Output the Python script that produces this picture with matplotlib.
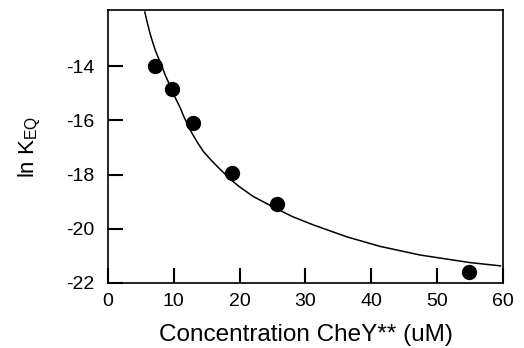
import numpy as np
import matplotlib
matplotlib.use('Agg')
import matplotlib.pyplot as plt

plt.rcParams['font.family'] = ['Liberation Sans', 'DejaVu Sans']
plt.rcParams['axes.unicode_minus'] = False
plt.rcParams['mathtext.fontset'] = 'custom'
plt.rcParams['mathtext.rm'] = 'Liberation Sans'
plt.rcParams['mathtext.it'] = 'Liberation Sans'
plt.rcParams['xtick.direction'] = 'in'
plt.rcParams['ytick.direction'] = 'in'

# measured points
conc = [7.1, 9.7, 12.9, 18.9, 25.6, 54.8]
lnkeq = [-14.0, -14.83, -16.11, -17.95, -19.08, -21.6]

# fitted curve
fit_x = [5.6, 6.0, 6.4, 6.8, 7.2, 7.7, 8.2, 8.7, 9.3, 9.8, 10.4, 11.0, 11.5, 12.1, 12.7,
         13.6, 14.5, 15.6, 16.8, 18.5, 19.8, 22.0, 25.1, 28.0, 31.2, 36.3, 41.3, 47.4, 55.0, 59.6]
fit_y = [-12.0, -12.42, -12.8, -13.12, -13.42, -13.72, -14.0, -14.33, -14.65, -14.95,
         -15.25, -15.55, -15.85, -16.15, -16.45, -16.82, -17.15, -17.45, -17.75, -18.15,
         -18.42, -18.8, -19.2, -19.55, -19.86, -20.3, -20.65, -20.97, -21.25, -21.37]
xticks = [0, 10, 20, 30, 40, 50, 60]
yticks = [-22, -20, -18, -16, -14]

fig = plt.figure(figsize=(5.24, 3.48), dpi=100)
ax = fig.add_axes([0.206, 0.187, 0.754, 0.784])

ax.plot(fit_x, fit_y, color='black', linewidth=1.1)
ax.plot(conc, lnkeq, 'o', color='black', markersize=10)

ax.set_xlim(0, 60)
ax.set_ylim(-22, -11.93)
ax.set_xticks(xticks)
ax.set_yticks(yticks)
# one call per axis so nothing gets reset afterwards
ax.tick_params(axis='x', direction='in', length=11, width=1.5, color='black',
               labelsize=14, pad=7)
ax.tick_params(axis='y', direction='in', length=11, width=1.5, color='black',
               labelsize=14, pad=10)
for s in ax.spines.values():
    s.set_linewidth(1.2)

ax.set_xlabel('Concentration CheY** (uM)', fontsize=17.5, labelpad=10)
ax.set_ylabel(r'ln K$_{\mathrm{EQ}}$', fontsize=16, labelpad=16)

fig.savefig('out.png', dpi=100)
